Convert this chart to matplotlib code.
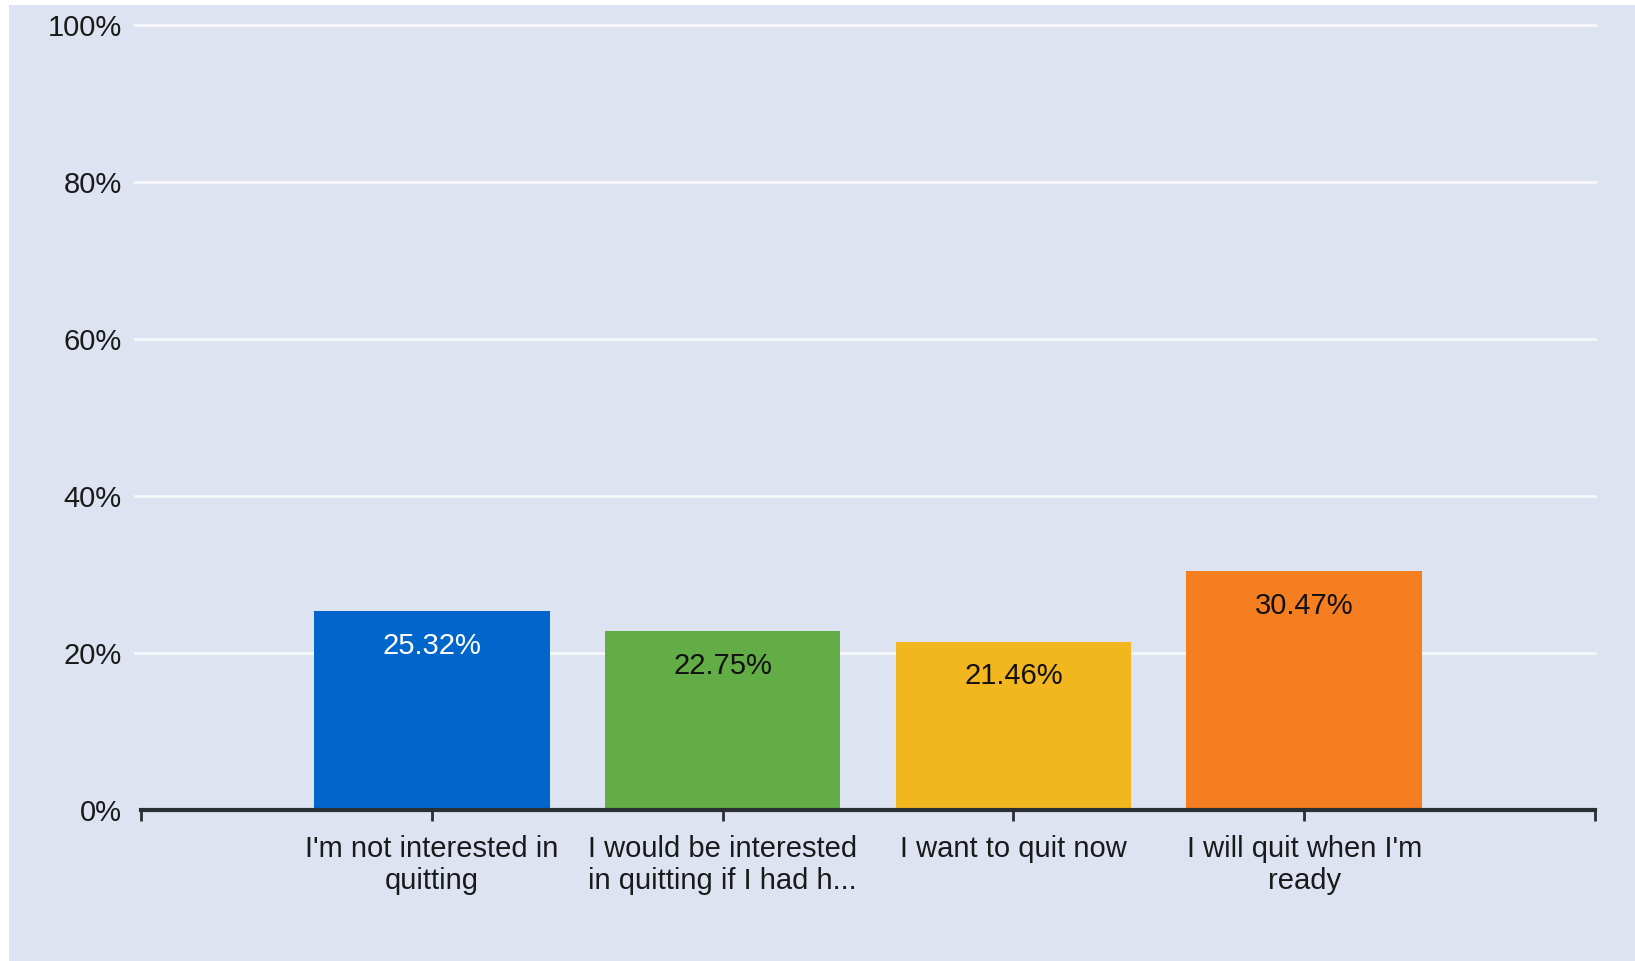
import matplotlib
matplotlib.use("Agg")
import matplotlib.pyplot as plt
from matplotlib.patches import Rectangle

# Survey responses: readiness to quit
categories = [
    "I'm not interested in\nquitting",
    "I would be interested\nin quitting if I had h...",
    "I want to quit now",
    "I will quit when I'm\nready",
]
percentages = [25.32, 22.75, 21.46, 30.47]
bar_colors = ["#0066CC", "#62AD46", "#F2B71E", "#F47E20"]
label_colors = ["white", "#111111", "#111111", "#111111"]
y_ticks = [0, 20, 40, 60, 80, 100]
y_tick_labels = ["0%", "20%", "40%", "60%", "80%", "100%"]

plt.rcParams["font.family"] = ["Liberation Sans", "DejaVu Sans"]

BG = "#DDE3F0"
W, H = 1635, 961
fig = plt.figure(figsize=(W / 100, H / 100), dpi=100, facecolor="white")

# panel background with a thin white margin at top and left
fig.patches.append(Rectangle((9 / W, 0), 1 - 9 / W, 1 - 5 / H,
                             transform=fig.transFigure, facecolor=BG,
                             edgecolor="none", zorder=-5))

ax = fig.add_axes([141 / W, 1 - 810 / H, (1595 - 141) / W, (810 - 25) / H])
ax.patch.set_alpha(0)

x = list(range(len(categories)))
ax.set_xlim(-1, len(categories))
ax.set_ylim(0, 100)

for yv in y_ticks[1:]:
    ax.axhline(yv, xmin=-0.004, xmax=1, color="#F7F8FB", lw=2, zorder=1,
               clip_on=False)

bars = ax.bar(x, percentages, width=0.81, color=bar_colors, zorder=2)

for xi, val, tc in zip(x, percentages, label_colors):
    ax.annotate(f"{val:.2f}%", xy=(xi, val), xytext=(0, -25),
                textcoords="offset points", ha="center", va="center",
                fontsize=21, color=tc, zorder=3)

# x axis: ticks at category centres plus the two ends
ax.set_xticks([-1] + x + [len(categories)])
ax.set_xticklabels([""] + categories + [""], fontsize=21, color="#1a1a1a",
                   linespacing=1.2)
ax.tick_params(axis="x", length=8, width=2, color="#2b2f33", pad=10,
               direction="out")
ax.set_yticks(y_ticks)
ax.set_yticklabels(y_tick_labels, fontsize=21, color="#1a1a1a")
ax.tick_params(axis="y", length=0, pad=14)

for side in ["top", "right", "left"]:
    ax.spines[side].set_visible(False)
ax.spines["bottom"].set_color("#2b2f33")
ax.spines["bottom"].set_linewidth(3)
ax.spines["bottom"].set_zorder(4)

fig.savefig("out.png", dpi=100, facecolor="white")
